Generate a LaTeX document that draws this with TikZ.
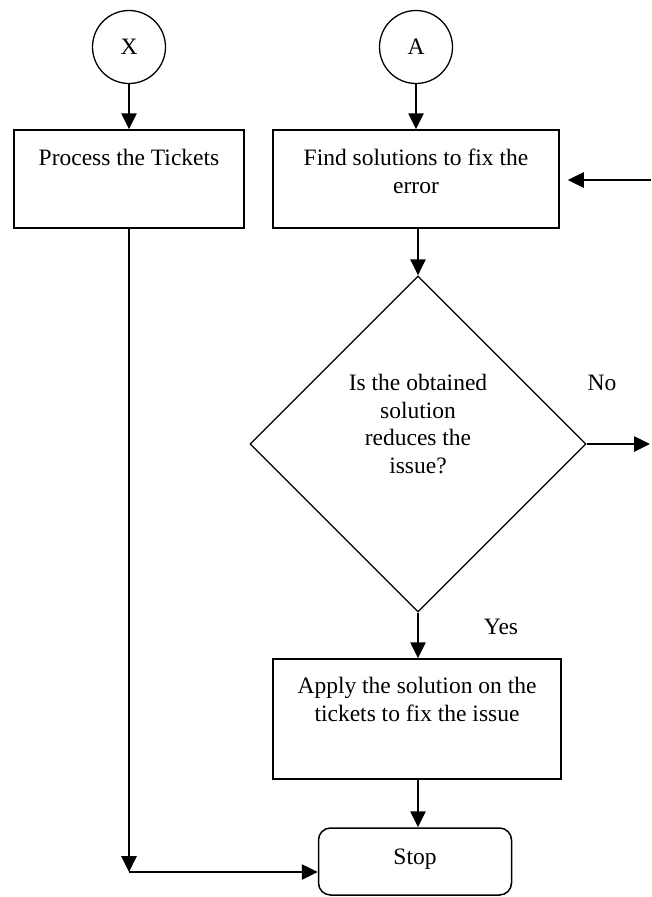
\documentclass[tikz,border=0pt]{standalone}
\usepackage{fontspec}
\setmainfont{Liberation Serif}
\usetikzlibrary{shapes.geometric,arrows.meta}
\begin{document}
\begin{tikzpicture}[x=1pt,y=-1pt,
  box/.style={draw,line width=1.5pt,inner sep=0pt},
  conn/.style={circle,draw,line width=1.3pt,minimum size=73pt,inner sep=0pt},
  txt/.style={font=\fontsize{23.5}{27.6}\selectfont,align=center,inner sep=0pt},
  arr/.style={line width=2.6pt,-{Triangle[length=16pt,width=15pt]}}]
\useasboundingbox (0,0) rectangle (651,897);
\fill[white] (0,0) rectangle (651,897);
% nodes
\node[conn,txt] (X) at (129,47) {X};
\node[conn,txt] (A) at (416,47) {A};
\node[box,minimum width=230pt,minimum height=98pt] (proc) at (129,179) {};
\node[txt,anchor=north] (proct) at (129,149) {Process the Tickets};
\node[box,minimum width=286pt,minimum height=98pt] (find) at (416,179) {};
\node[txt,anchor=north] (findt) at (416,149) {Find solutions to fix the\\error};
\node[diamond,draw,line width=1.2pt,minimum width=336pt,minimum height=336pt,inner sep=0pt] (dec) at (418,444) {};
\node[txt,anchor=north] (dect) at (418,374) {Is the obtained\\solution\\reduces the\\issue?};
\node[txt] (no) at (602,383) {No};
\node[txt] (yes) at (501,627) {Yes};
\node[box,minimum width=288pt,minimum height=120pt] (apply) at (417,719) {};
\node[txt,anchor=north] (applyt) at (417,677) {Apply the solution on the\\tickets to fix the issue};
\node[box,rounded corners=12pt,minimum width=193pt,minimum height=67pt] (stop) at (415,861.5) {};
\node[txt,anchor=base] (stopt) at (415,864) {Stop};
% connectors
\coordinate (inR) at (651,180);
\coordinate (outR) at (650,444);
\coordinate (corner) at (129,872);
\draw[arr] (X.south) -- (proc.north);
\draw[arr] (A.south) -- (find.north);
\draw[arr] (inR) -- ([xshift=8pt]find.east |- inR);
\draw[arr] (find.south -| dec.north) -- (dec.north);
\draw[arr] (dec.east) -- (outR);
\draw[arr] (dec.south) -- (dec.south |- apply.north);
\draw[arr] (apply.south -| dec.south) -- (dec.south |- stop.north);
\draw[arr] (proc.south) -- (corner);
\draw[arr] (corner) -- (stop.west |- corner);
\end{tikzpicture}
\end{document}
